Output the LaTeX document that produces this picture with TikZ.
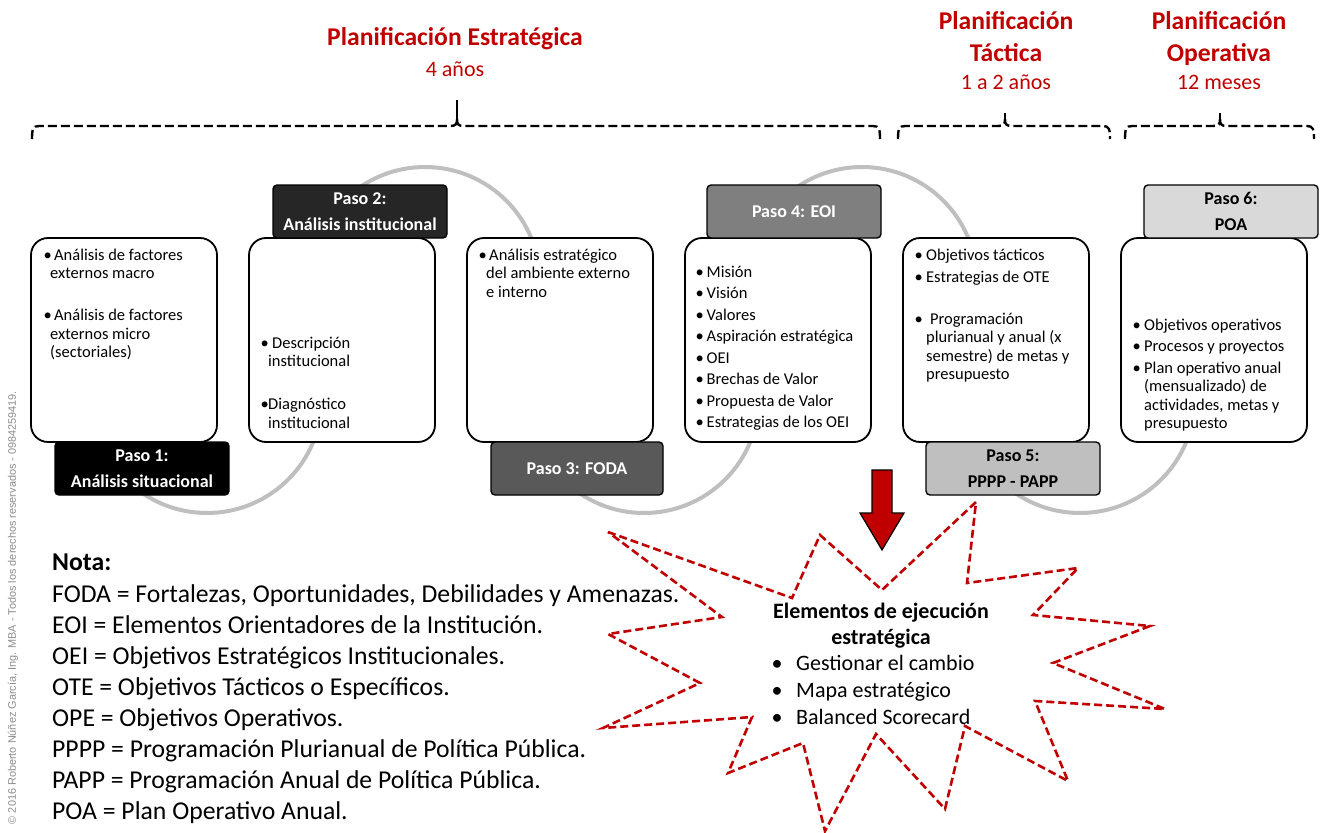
\documentclass[tikz,border=0pt]{standalone}
\usepackage{fontspec}
\setmainfont{Carlito}
\newfontfamily\wmfont{Liberation Sans}
\usetikzlibrary{positioning}

\definecolor{planred}{HTML}{C00000}
\definecolor{wavegray}{HTML}{BFBFBF}
\definecolor{wmgray}{HTML}{8C8C8C}
\definecolor{paso2col}{HTML}{262626}
\definecolor{paso3col}{HTML}{595959}
\definecolor{paso4col}{HTML}{7F7F7F}
\definecolor{paso5col}{HTML}{BFBFBF}
\definecolor{paso6col}{HTML}{D9D9D9}

\newcommand{\itm}[1][11pt]{\makebox[#1][l]{\textbullet}}
\newcommand{\cnt}[1][7pt]{\hspace*{#1}}
\newcommand{\tstrut}{\rule{0pt}{14pt}}
\newcommand{\bstrut}{\rule{0pt}{18pt}}

\begin{document}
\begin{tikzpicture}[x=1pt,y=-1pt,node distance=32pt,
		box/.style={draw,line width=1.8pt,rounded corners=17pt,fill=white,minimum width=186pt,minimum height=204pt,inner sep=0pt,outer sep=0pt},
		paso/.style={draw,line width=1.4pt,rounded corners=4pt,minimum width=174pt,minimum height=53pt,inner sep=0pt,outer sep=0pt,align=center,font=\bfseries\fontsize{18}{26}\selectfont},
		txt/.style={anchor=north west,inner sep=0pt,align=left,font=\fontsize{16.5}{18.5}\selectfont},
		ttl/.style={anchor=base,inner sep=0pt,text=planred,font=\bfseries\fontsize{25.6}{30}\selectfont},
		sub/.style={anchor=base,inner sep=0pt,text=planred,font=\fontsize{22}{26}\selectfont},
		brk/.style={line width=2.4pt,dash pattern=on 9pt off 4pt},
		wave/.style={draw=wavegray,line width=4pt},
		burst/.style={draw=planred,line width=2.6pt,dash pattern=on 8pt off 4pt,line join=miter}]
	\useasboundingbox (0,0) rectangle (1324,832);

	% gray wave behind the steps
	\foreach \cx/\cy/\a/\b in {207/398/180/0,425/282/180/360,644/398/180/0,862/282/180/360,1080/398/180/0}
		\draw[wave] (\cx,\cy) ++(\a:115) arc[start angle=\a,end angle=\b,radius=115];

	% time brackets
	\foreach \l/\c/\r/\t in {32/457/880/100,898/1005/1110/113,1125/1220/1314/113}{
		\draw[brk] (\l,139) .. controls (\l,129) and (\l+1,126) .. (\l+7,126) -- (\c-7,126)
			.. controls (\c-1,126) and (\c,124) .. (\c,119)
			(\c,119) .. controls (\c,124) and (\c+1,126) .. (\c+7,126) -- (\r-7,126)
			.. controls (\r-1,126) and (\r,129) .. (\r,139);
		\draw[line width=2.4pt] (\c,120) -- (\c,\t);
	}

	\node[ttl] (estr) at (455,46) {Planificación Estratégica};
	\node[sub] (estrt) at (455,76.5) {4 años};
	\node[ttl] (tact) at (1006,29.5) {Planificación};
	\node[ttl] (tact2) at (1006,61.5) {Táctica};
	\node[sub] (tactt) at (1006,90) {1 a 2 años};
	\node[ttl] (oper) at (1219,29.5) {Planificación};
	\node[ttl] (oper2) at (1219,61.5) {Operativa};
	\node[sub] (opert) at (1219,90) {12 meses};

	\node[box] (box1) at (124,340) {};
	\node[box] [right=of box1] (box2) {};
	\node[box] [right=of box2] (box3) {};
	\node[box] [right=of box3] (box4) {};
	\node[box] [right=of box4] (box5) {};
	\node[box] [right=of box5] (box6) {};

	\node[paso,fill=black,text=white,anchor=north west] (paso1) at ([xshift=24pt]box1.south west) {Paso 1:\\Análisis situacional};
	\node[paso,fill=paso2col,text=white,anchor=south west] (paso2) at ([xshift=24pt]box2.north west) {Paso 2:\\Análisis institucional};
	\node[paso,fill=paso3col,text=white,anchor=north west,minimum width=172pt] (paso3) at ([xshift=24pt]box3.south west) {Paso 3: FODA};
	\node[paso,fill=paso4col,text=white,anchor=south west] (paso4) at ([xshift=22pt]box4.north west) {Paso 4: EOI};
	\node[paso,fill=paso5col,anchor=north west] (paso5) at ([xshift=23pt]box5.south west) {Paso 5:\\PPPP - PAPP};
	\node[paso,fill=paso6col,anchor=south west] (paso6) at ([xshift=23pt]box6.north west) {Paso 6:\\POA};

	\node[txt] (txt1) at ([xshift=12.5pt,yshift=-7.8pt]box1.north west)
		{\tstrut\itm[10.5pt]Análisis de factores\\\cnt[6.5pt]externos macro\\[23.5pt]
		\itm[10.5pt]Análisis de factores\\\cnt[6.5pt]externos micro\\\cnt[6.5pt](sectoriales)};
	\node[txt] (txt2) at ([xshift=11.5pt,yshift=-95.8pt]box2.north west)
		{\tstrut\itm[11.5pt]Descripción\\\cnt[7.5pt]institucional\\[24.5pt]
		\itm[7.5pt]Diagnóstico\\\cnt[7.5pt]institucional};
	\node[txt] (txt3) at ([xshift=11.5pt,yshift=-7.8pt]box3.north west)
		{\tstrut\itm[10.5pt]Análisis estratégico\\\cnt[7.5pt]del ambiente externo\\\cnt[7.5pt]e interno};
	\node[txt] (txt4) at ([xshift=10.5pt,yshift=-24.8pt]box4.north west)
		{\tstrut\itm Misión\\[3pt]\itm Visión\\[3pt]\itm Valores\\[3pt]\itm Aspiración estratégica\\[3pt]
		\itm OEI\\[3pt]\itm Brechas de Valor\\[3pt]\itm Propuesta de Valor\\[3pt]\itm Estrategias de los OEI};
	\node[txt] (txt5) at ([xshift=11.5pt,yshift=-7.8pt]box5.north west)
		{\tstrut\itm[11.5pt]Objetivos tácticos\\[3.5pt]\itm[11.5pt]Estrategias de OTE\\[23.5pt]
		\itm[15.5pt]Programación\\\cnt[11.5pt]plurianual y anual (x\\\cnt[11.5pt]semestre) de metas y\\\cnt[11.5pt]presupuesto};
	\node[txt] (txt6) at ([xshift=11.5pt,yshift=-77.8pt]box6.north west)
		{\tstrut\itm[11.5pt]Objetivos operativos\\[3pt]\itm[11.5pt]Procesos y proyectos\\[3pt]
		\itm[11.5pt]Plan operativo anual\\\cnt[11.5pt](mensualizado) de\\\cnt[11.5pt]actividades, metas y\\\cnt[11.5pt]presupuesto};

	% execution elements
	\draw[burst] (608,532) -- (792,598) -- (820,535) -- (882,590) -- (976,502) -- (967,583) -- (1078,568) -- (1033,615)
		-- (1150,626) -- (1053,663) -- (1165,709) -- (1035,701) -- (1068,781) -- (965,726) -- (945,809) -- (876,734)
		-- (825,831) -- (803,743) -- (728,773) -- (752,717) -- (603,728) -- (700,683) -- (608,634) -- (722,617) -- cycle;
	\draw[line width=1.2pt,fill=planred] (872,470) -- (892,470) -- (892,513) -- (904,513) -- (882,550) -- (860,513) -- (872,513) -- cycle;
	\node[anchor=north,inner sep=0pt,align=center,font=\bfseries\fontsize{22}{26}\selectfont] (ejec) at (881,600)
		{\bstrut Elementos de ejecución\\estratégica};
	\node[anchor=north west,inner sep=0pt,align=left,font=\fontsize{22}{27}\selectfont] (ejecl) at (771.5,652)
		{\bstrut\itm[24.5pt]Gestionar el cambio\\\itm[24.5pt]Mapa estratégico\\\itm[24.5pt]Balanced Scorecard};

	\node[anchor=north west,inner sep=0pt,align=left,font=\fontsize{25.7}{31}\selectfont] (nota) at (52,550)
		{\rule{0pt}{20pt}\textbf{Nota:}\\[1pt]
		FODA = Fortalezas, Oportunidades, Debilidades y Amenazas.\\
		EOI = Elementos Orientadores de la Institución.\\
		OEI = Objetivos Estratégicos Institucionales.\\
		OTE = Objetivos Tácticos o Específicos.\\
		OPE = Objetivos Operativos.\\
		PPPP = Programación Plurianual de Política Pública.\\
		PAPP = Programación Anual de Política Pública.\\
		POA = Plan Operativo Anual.};

	\node[rotate=90,inner sep=0pt,text=wmgray,font=\wmfont\fontsize{10.9}{12}\selectfont] (marca) at (13,607.5)
		{© 2016 Roberto Núñez García, Ing. MBA - Todos los derechos reservados - 0984259419.};
\end{tikzpicture}
\end{document}
